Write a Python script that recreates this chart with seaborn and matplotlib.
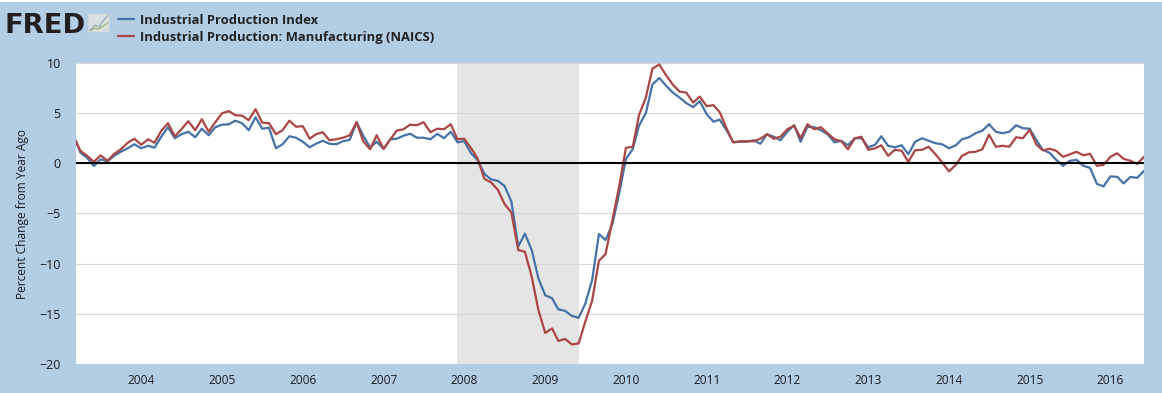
import matplotlib
matplotlib.use('Agg')
import matplotlib.pyplot as plt
import matplotlib.dates as mdates
from matplotlib.patches import FancyBboxPatch, Rectangle
import pandas as pd
import seaborn as sns

# Monthly percent change from year ago (Mar 2003 - Jun 2016)
first_month = '2003-03-01'
industrial = [
    2.8, 1.06, 0.56, -0.27, 0.4, 0.2, 0.76, 1.16, 1.5, 1.9, 1.5, 1.76, 1.56, 2.66, 3.6, 2.5, 2.9, 3.15, 2.6, 3.45,
    2.8, 3.6, 3.85, 3.9, 4.25, 4.0, 3.3, 4.6, 3.45, 3.55, 1.5, 1.9, 2.7, 2.55, 2.15, 1.6, 1.95, 2.25, 1.95, 1.9,
    2.2, 2.35, 4.1, 2.75, 1.6, 2.15, 1.45, 2.4, 2.45, 2.75, 2.95, 2.55, 2.55, 2.4, 2.95, 2.5, 3.15,
    2.1, 2.2, 1.0, 0.33, -1.05, -1.6, -1.75, -2.25, -3.8, -8.3, -7.0, -8.65, -11.45, -13.15, -13.45, -14.55, -14.7,
    -15.2, -15.4, -14.0, -11.65, -7.05, -7.65, -6.05, -3.05,
    0.43, 1.43, 3.75, 5.0, 7.87, 8.5, 7.75, 7.05, 6.55, 6.0, 5.6, 6.2, 4.9, 4.15, 4.35, 3.3, 2.1, 2.15, 2.15, 2.3, 1.95,
    2.9, 2.65,
    2.3, 3.15, 3.8, 2.15, 3.65, 3.6, 3.3, 2.9, 2.1, 2.25, 1.8, 2.5, 2.5, 1.6, 1.85, 2.7, 1.75, 1.6, 1.8, 0.9, 2.15,
    2.5, 2.25, 2.0, 1.9, 1.5, 1.8, 2.4, 2.6, 3.0, 3.25, 3.9, 3.15, 3.0, 3.15, 3.8, 3.5, 3.45, 2.3, 1.35, 1.05, 0.35,
    -0.25, 0.25, 0.35, -0.25, -0.45, -2.05, -2.3, -1.3, -1.35, -2.0, -1.35, -1.45, -0.75,
]
manufacturing = [
    2.7, 1.25, 0.75, 0.15, 0.8, 0.25, 0.95, 1.4, 2.05, 2.45, 1.85, 2.4, 2.05, 3.25, 4.0, 2.7, 3.4, 4.2, 3.3, 4.4,
    3.15, 4.1, 5.0, 5.2, 4.8, 4.75, 4.3, 5.4, 4.05, 4.0, 2.9, 3.3, 4.25, 3.65, 3.7, 2.45, 2.9, 3.1, 2.3, 2.4,
    2.55, 2.8, 4.1, 2.2, 1.4, 2.8, 1.45, 2.4, 3.25, 3.4, 3.85, 3.8, 4.1, 3.1, 3.45, 3.4, 3.9,
    2.4, 2.45, 1.5, 0.5, -1.55, -1.9, -2.65, -4.05, -4.9, -8.65, -8.8, -11.3, -14.6, -16.9, -16.45, -17.7, -17.5,
    -18.05, -17.95, -15.8, -13.7, -9.7, -9.05, -5.65, -2.35,
    1.55, 1.65, 4.8, 6.55, 9.45, 9.85, 8.8, 7.85, 7.15, 7.05, 6.05, 6.65, 5.7, 5.8, 5.1, 3.5, 2.1, 2.2, 2.2, 2.2, 2.45,
    2.9, 2.45,
    2.65, 3.4, 3.75, 2.5, 3.9, 3.4, 3.6, 3.0, 2.4, 2.2, 1.4, 2.5, 2.65, 1.35, 1.5, 1.8, 0.75, 1.35, 1.25, 0.15, 1.3,
    1.35, 1.65, 0.9, 0.1, -0.8, -0.15, 0.75, 1.1, 1.15, 1.4, 2.85, 1.65, 1.75, 1.65, 2.6, 2.5, 3.35, 1.85, 1.3, 1.45,
    1.25, 0.65, 0.9, 1.15, 0.8, 0.95, -0.25, -0.15, 0.65, 1.0, 0.45, 0.25, -0.05, 0.65,
]
series_names = ['Industrial Production Index', 'Industrial Production: Manufacturing (NAICS)']
recession = ['2007-12-01', '2009-06-01']
y_ticks = [-20, -15, -10, -5, 0, 5, 10]
years = list(range(2004, 2017))

bg = '#b3cde5'
font = 'Open Sans'
W, H = 1162, 393

dates = pd.date_range(first_month, periods=len(industrial), freq='MS')
df = pd.DataFrame({'Date': dates, series_names[0]: industrial, series_names[1]: manufacturing})
long_df = df.melt(id_vars='Date', var_name='Series', value_name='Change')

sns.set_style('white')
plt.rcParams['font.family'] = [font, 'DejaVu Sans']

fig = plt.figure(figsize=(W / 100, H / 100), dpi=100, facecolor=bg)
ax = fig.add_axes([76 / W, 1 - 364 / H, (1144 - 76) / W, (364 - 63) / H])

ax.axvspan(pd.Timestamp(recession[0]), pd.Timestamp(recession[1]), color='#e5e5e5', lw=0, zorder=0)
sns.lineplot(data=long_df, x='Date', y='Change', hue='Series', hue_order=series_names,
             palette=['#4572a7', '#aa4643'], linewidth=1.6, errorbar=None, ax=ax, zorder=3)
ax.axhline(0, color='black', lw=1.5, zorder=4)

ax.set_xlim(pd.Timestamp('2003-03-12'), pd.Timestamp('2016-06-01'))
ax.set_ylim(-20, 10)
ax.set_yticks(y_ticks)
ax.set_xticks([pd.Timestamp(f'{y}-01-01') for y in years])
ax.xaxis.set_major_formatter(mdates.DateFormatter('%Y'))
ax.grid(axis='y', color='#d8d8d8', lw=0.8, zorder=1)
ax.set_axisbelow(True)
for s in ax.spines.values():
    s.set_visible(False)
ax.tick_params(axis='x', length=6, width=0.8, color='#c4d8ea', labelsize=8.6, labelcolor='#1c1c1c', pad=1)
ax.tick_params(axis='y', length=0, labelsize=9, labelcolor='#1c1c1c', pad=11)
ax.set_xlabel('')
ax.set_ylabel('')
fig.text(23 / W, 1 - 214 / H, 'Percent Change from Year Ago', rotation=90, ha='center', va='center',
         fontsize=8.6, color='#1c1c1c')

# legend at the top
leg = ax.legend(loc='upper left', bbox_to_anchor=(118 / W, 1 - 14 / H), bbox_transform=fig.transFigure,
                frameon=False, ncol=1, fontsize=9.4, handlelength=1.2, handletextpad=0.5,
                labelspacing=0.3, borderpad=0, borderaxespad=0, title=None)
for t in leg.get_texts():
    t.set_fontweight('bold')
    t.set_color('#222222')

# top white strip of the page
fig.add_artist(Rectangle((0, 1 - 2 / H), 1, 2 / H, transform=fig.transFigure, color='white', lw=0))

# FRED logo
fig.text(5 / W, 1 - 33 / H, 'FRED', fontsize=19.7, fontweight='bold', color='#231f20', ha='left', va='baseline',
         family=['DejaVu Sans'])
fig.add_artist(FancyBboxPatch((89 / W, 1 - 32 / H), 20 / W, 18 / H, boxstyle='round,pad=0.0005',
                              transform=fig.transFigure, fc='#d9dfdf', ec='none'))
fig.add_artist(plt.Line2D([90 / W, 95 / W, 99 / W, 103 / W, 108 / W],
                          [1 - 30 / H, 1 - 25 / H, 1 - 27 / H, 1 - 21 / H, 1 - 15 / H],
                          color='#7f9fb5', lw=0.7, transform=fig.transFigure))
fig.add_artist(plt.Line2D([90 / W, 95 / W, 99 / W, 103 / W, 108 / W],
                          [1 - 31 / H, 1 - 28 / H, 1 - 29 / H, 1 - 26 / H, 1 - 23 / H],
                          color='#8fae5a', lw=0.7, transform=fig.transFigure))

fig.savefig('out.png', dpi=100, facecolor=bg)
